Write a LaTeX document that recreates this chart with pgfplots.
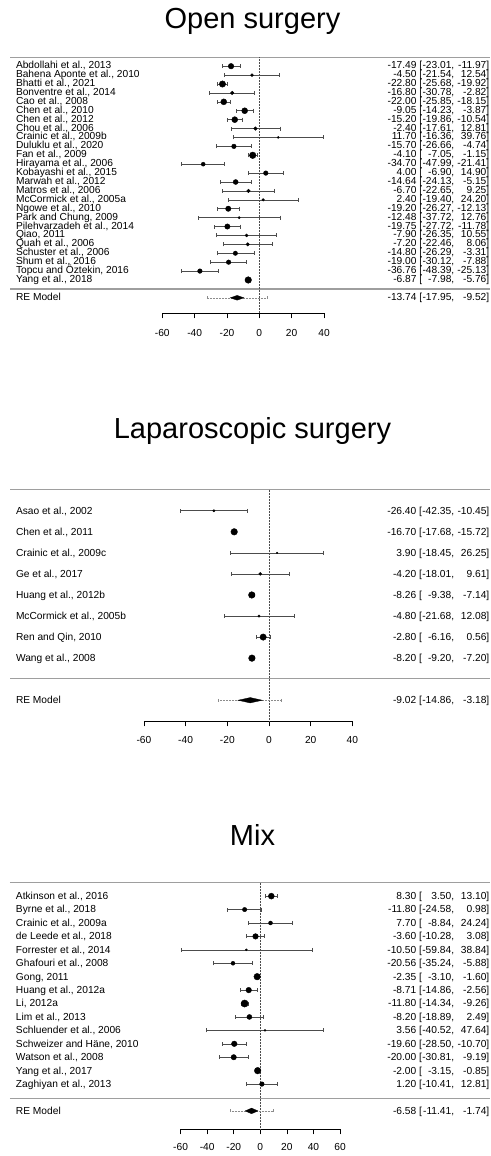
\documentclass[border=0pt]{standalone}
\usepackage{fontspec}
\setmainfont{Liberation Sans}
\usepackage{pgfplots}
\usepackage{pgfplotstable}
\pgfplotsset{compat=1.18}
\newcommand\lblfont{\fontsize{10.2}{12}\selectfont}
\newcommand\ttlfont{\fontsize{29}{32}\selectfont}
\definecolor{sepgray}{gray}{0.62}
\definecolor{cigray}{gray}{0.3}

\pgfplotsset{
  ftxt/.style n args={4}{only marks, mark=none, point meta=explicit symbolic,
    nodes near coords={#4},
    nodes near coords style={anchor=#2, xshift=#3, yshift=#1, inner sep=0pt, outer sep=0pt, font=\lblfont, text=black}},
  forest/.style={scale only axis, clip=false, enlargelimits=false,
    axis x line=bottom, axis y line=none,
    axis line style={-, line width=0.6pt, black},
    xtick align=outside, major tick length=5pt,
    tick style={line width=0.6pt, black},
    ytick=\empty,
    xticklabel style={font=\lblfont, anchor=base}},
  study/.style={scatter, only marks, mark=*,
    scatter/use mapped color={draw=black, fill=black},
    visualization depends on={\thisrow{r} \as \psize},
    scatter/@pre marker code/.append style={/tikz/mark size=\psize},
    error bars/x dir=both, error bars/x explicit,
    error bars/error bar style={line width=0.6pt, cigray},
    error bars/error mark options={rotate=90, mark size=2pt, line width=0.6pt, cigray}},
}

\newcommand{\textcols}[7]{%
  \addplot[ftxt={#2}{base west}{#3}{\pgfplotspointmeta}] table[x expr=0,y=y,meta=name]{#1};
  \addplot[ftxt={#2}{base east}{#4}{\pgfplotspointmeta}] table[x expr=0,y=y,meta=est]{#1};
  \addplot[ftxt={#2}{base west}{#5}{[}] table[x expr=0,y=y,meta=est]{#1};
  \addplot[ftxt={#2}{base east}{#6}{\pgfplotspointmeta,}] table[x expr=0,y=y,meta=lo]{#1};
  \addplot[ftxt={#2}{base east}{#7}{\pgfplotspointmeta]}] table[x expr=0,y=y,meta=hi]{#1};
}
\newcommand{\studyplot}[1]{%
  \addplot[study] table[x=est, y=y, x error plus expr=\thisrow{hi}-\thisrow{est}, x error minus expr=\thisrow{est}-\thisrow{lo}]{#1};
}

\pgfplotstableread[col sep=semicolon]{
y;name;est;lo;hi;r
-1;Abdollahi et al., 2013;-17.49;-23.01;-11.97;2.8
-2;Bahena Aponte et al., 2010;-4.50;-21.54;12.54;1.5
-3;Bhatti et al., 2021;-22.80;-25.68;-19.92;3.2
-4;Bonventre et al., 2014;-16.80;-30.78;-2.82;1.8
-5;Cao et al., 2008;-22.00;-25.85;-18.15;3.0
-6;Chen et al., 2010;-9.05;-14.23;-3.87;3.0
-7;Chen et al., 2012;-15.20;-19.86;-10.54;3.0
-8;Chou et al., 2006;-2.40;-17.61;12.81;1.8
-9;Crainic et al., 2009b;11.70;-16.36;39.76;1.0
-10;Duluklu et al., 2020;-15.70;-26.66;-4.74;2.3
-11;Fan et al., 2009;-4.10;-7.05;-1.15;3.3
-12;Hirayama et al., 2006;-34.70;-47.99;-21.41;2.0
-13;Kobayashi et al., 2015;4.00;-6.90;14.90;2.3
-14;Marwah et al., 2012;-14.64;-24.13;-5.15;2.5
-15;Matros et al., 2006;-6.70;-22.65;9.25;1.8
-16;McCormick et al., 2005a;2.40;-19.40;24.20;1.3
-17;Ngowe et al., 2010;-19.20;-26.27;-12.13;2.7
-18;Park and Chung, 2009;-12.48;-37.72;12.76;1.2
-19;Pilehvarzadeh et al., 2014;-19.75;-27.72;-11.78;2.7
-20;Qiao, 2011;-7.90;-26.35;10.55;1.5
-21;Quah et al., 2006;-7.20;-22.46;8.06;1.7
-22;Schuster et al., 2006;-14.80;-26.29;-3.31;2.2
-23;Shum et al., 2016;-19.00;-30.12;-7.88;2.3
-24;Topcu and Öztekin, 2016;-36.76;-48.39;-25.13;2.3
-25;Yang et al., 2018;-6.87;-7.98;-5.76;3.3
}\openT
\pgfplotstableread[col sep=semicolon]{
y;name;est;lo;hi
-27;RE Model;-13.74;-17.95;-9.52
}\openRE

\pgfplotstableread[col sep=semicolon]{
y;name;est;lo;hi;r
-1;Asao et al., 2002;-26.40;-42.35;-10.45;1.2
-2;Chen et al., 2011;-16.70;-17.68;-15.72;3.3
-3;Crainic et al., 2009c;3.90;-18.45;26.25;0.8
-4;Ge et al., 2017;-4.20;-18.01;9.61;1.5
-5;Huang et al., 2012b;-8.26;-9.38;-7.14;3.3
-6;McCormick et al., 2005b;-4.80;-21.68;12.08;1.2
-7;Ren and Qin, 2010;-2.80;-6.16;0.56;3.2
-8;Wang et al., 2008;-8.20;-9.20;-7.20;3.3
}\lapT
\pgfplotstableread[col sep=semicolon]{
y;name;est;lo;hi
-10;RE Model;-9.02;-14.86;-3.18
}\lapRE

\pgfplotstableread[col sep=semicolon]{
y;name;est;lo;hi;r
-1;Atkinson et al., 2016;8.30;3.50;13.10;3.0
-2;Byrne et al., 2018;-11.80;-24.58;0.98;2.2
-3;Crainic et al., 2009a;7.70;-8.84;24.24;2.0
-4;de Leede et al., 2018;-3.60;-10.28;3.08;2.8
-5;Forrester et al., 2014;-10.50;-59.84;38.84;1.0
-6;Ghafouri et al., 2008;-20.56;-35.24;-5.88;2.0
-7;Gong, 2011;-2.35;-3.10;-1.60;3.3
-8;Huang et al., 2012a;-8.71;-14.86;-2.56;2.8
-9;Li, 2012a;-11.80;-14.34;-9.26;3.6
-10;Lim et al., 2013;-8.20;-18.89;2.49;2.5
-11;Schluender et al., 2006;3.56;-40.52;47.64;1.0
-12;Schweizer and Häne, 2010;-19.60;-28.50;-10.70;2.8
-13;Watson et al., 2008;-20.00;-30.81;-9.19;2.7
-14;Yang et al., 2017;-2.00;-3.15;-0.85;3.3
-15;Zaghiyan et al., 2013;1.20;-10.41;12.81;2.3
}\mixT
\pgfplotstableread[col sep=semicolon]{
y;name;est;lo;hi
-17;RE Model;-6.58;-11.41;-1.74
}\mixRE

\begin{document}
\begin{tikzpicture}
\path[use as bounding box] (0,0) rectangle (490pt,-1156pt);

% ---------------- Open surgery ----------------
\node[anchor=base, font=\ttlfont] at (252.5pt,-29pt) {Open surgery};
\begin{axis}[forest, at={(162.3pt,-313.3pt)}, anchor=south west,
  width=161.7pt, height=256pt,
  xmin=-60, xmax=40, ymin=-28.74, ymax=0,
  xtick={-60,-40,-20,0,20,40}, xticklabels={-60,-40,-20,0,20,40},
  xticklabel style={yshift=-17.7pt}]
\addplot[sepgray, line width=1.3pt] coordinates {(-153.9,0) (142.4,0)};
\addplot[sepgray, line width=1.3pt] coordinates {(-153.9,-26) (142.4,-26)};
\addplot[black!70, densely dotted, line width=0.5pt] coordinates {(0,0) (0,-28.74)};
\studyplot{\openT}
\addplot[black!45, densely dotted, line width=0.5pt, mark=|, mark options={solid, mark size=1.5pt}] coordinates {(-32.5,-27) (4.6,-27)};
\addplot[fill=black, draw=black, line width=0.3pt] coordinates {(-17.95,-27) (-13.74,-26.73) (-9.52,-27) (-13.74,-27.27)} -- cycle;
\textcols{\openT}{-2.5pt}{-243.3pt}{157.2pt}{160.0pt}{195.0pt}{229.9pt}
\textcols{\openRE}{-2.5pt}{-243.3pt}{157.2pt}{160.0pt}{195.0pt}{229.9pt}
\end{axis}

% ---------------- Laparoscopic surgery ----------------
\node[anchor=base, font=\ttlfont] at (252.5pt,-438.3pt) {Laparoscopic surgery};
\begin{axis}[forest, at={(143.9pt,-721.3pt)}, anchor=south west,
  width=208.5pt, height=231.6pt,
  xmin=-60, xmax=40, ymin=-11, ymax=0,
  xtick={-60,-40,-20,0,20,40}, xticklabels={-60,-40,-20,0,20,40},
  xticklabel style={yshift=-17.3pt}]
\addplot[sepgray, line width=1.3pt] coordinates {(-124.2,0) (106.0,0)};
\addplot[sepgray, line width=1.3pt] coordinates {(-124.2,-8.98) (106.0,-8.98)};
\addplot[black!70, densely dotted, line width=0.5pt] coordinates {(0,0) (0,-11)};
\studyplot{\lapT}
\addplot[black!45, densely dotted, line width=0.5pt, mark=|, mark options={solid, mark size=1.5pt}] coordinates {(-24.3,-10) (6.1,-10)};
\addplot[fill=black, draw=black, line width=0.3pt] coordinates {(-14.86,-10) (-9.02,-9.872) (-3.18,-10) (-9.02,-10.128)} -- cycle;
\textcols{\lapT}{-3.6pt}{-253pt}{147.3pt}{150.1pt}{185.1pt}{220.3pt}
\textcols{\lapRE}{-3.6pt}{-253pt}{147.3pt}{150.1pt}{185.1pt}{220.3pt}
\end{axis}

% ---------------- Mix ----------------
\node[anchor=base, font=\ttlfont] at (252.5pt,-845pt) {Mix};
\begin{axis}[forest, at={(180.6pt,-1129.3pt)}, anchor=south west,
  width=159.4pt, height=246.6pt,
  xmin=-60, xmax=60, ymin=-18.37, ymax=0,
  xtick={-60,-40,-20,0,20,40,60}, xticklabels={-60,-40,-20,0,20,40,60},
  xticklabel style={yshift=-16pt}]
\addplot[sepgray, line width=1.3pt] coordinates {(-188.5,0) (173.0,0)};
\addplot[sepgray, line width=1.3pt] coordinates {(-188.5,-16.06) (173.0,-16.06)};
\addplot[black!70, densely dotted, line width=0.5pt] coordinates {(0,0) (0,-18.37)};
\studyplot{\mixT}
\addplot[black!45, densely dotted, line width=0.5pt, mark=|, mark options={solid, mark size=1.5pt}] coordinates {(-22.8,-17) (9.8,-17)};
\addplot[fill=black, draw=black, line width=0.3pt] coordinates {(-11.41,-17) (-6.58,-16.79) (-1.74,-17) (-6.58,-17.21)} -- cycle;
\textcols{\mixT}{-3.4pt}{-244.3pt}{156.0pt}{158.8pt}{193.8pt}{229.0pt}
\textcols{\mixRE}{-3.4pt}{-244.3pt}{156.0pt}{158.8pt}{193.8pt}{229.0pt}
\end{axis}
\end{tikzpicture}
\end{document}
